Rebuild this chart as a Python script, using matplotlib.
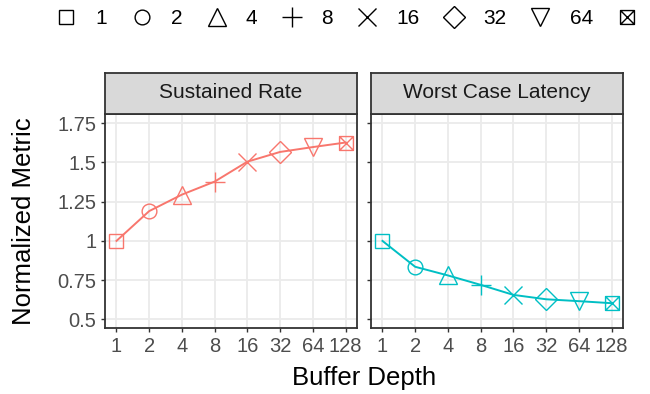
import matplotlib
matplotlib.use("Agg")
import matplotlib.pyplot as plt
from matplotlib.path import Path
from matplotlib.lines import Line2D

plt.rcParams['font.family'] = ['Liberation Sans', 'DejaVu Sans']

# data
depths = [1, 2, 4, 8, 16, 32, 64, 128]
depth_labels = ["1", "2", "4", "8", "16", "32", "64", "128"]
sustained_rate = [1.0, 1.19, 1.295, 1.378, 1.505, 1.567, 1.598, 1.627]
worst_latency = [1.0, 0.835, 0.78, 0.72, 0.656, 0.628, 0.616, 0.603]
facets = ["Sustained Rate", "Worst Case Latency"]
colors = ["#F8766D", "#00BFC4"]
yticks = [0.5, 0.75, 1.0, 1.25, 1.5, 1.75]
ytick_labels = ["0.5", "0.75", "1", "1.25", "1.5", "1.75"]

# ggplot shapes 0..7 ; boxed x made as a path
boxx = Path([(-0.5, -0.5), (0.5, -0.5), (0.5, 0.5), (-0.5, 0.5), (-0.5, -0.5),
             (-0.5, -0.5), (0.5, 0.5), (-0.5, 0.5), (0.5, -0.5)],
            [Path.MOVETO, Path.LINETO, Path.LINETO, Path.LINETO, Path.CLOSEPOLY,
             Path.MOVETO, Path.LINETO, Path.MOVETO, Path.LINETO])
markers = ["s", "o", "^", "+", "x", "D", "v", boxx]
msizes = [9.6, 10.6, 13.5, 14.4, 13.0, 11.5, 12.5, 10.0]

W, H = 650, 394
fig = plt.figure(figsize=(6.5, 3.94), dpi=100)

def fx(px):
    return px / W

def fy(py):
    return 1 - py / H

panel_x = [105, 371]
pw = 252
ptop, pbot = 113.5, 328.3
strip_top = 72.5

for i, (name, vals, col) in enumerate(zip(facets, [sustained_rate, worst_latency], colors)):
    ax = fig.add_axes([fx(panel_x[i]), fy(pbot), pw / W, (pbot - ptop) / H])
    ax.set_xscale("log", base=2)
    ax.set_xlim(2 ** -0.35, 2 ** 7.35)
    ax.set_ylim(0.443, 1.812)
    ax.set_xticks(depths)
    ax.set_xticklabels(depth_labels)
    ax.minorticks_off()
    ax.set_yticks(yticks)
    if i == 0:
        ax.set_yticklabels(ytick_labels)
    else:
        ax.set_yticklabels([])
    ax.grid(True, color="#EBEBEB", lw=1.3)
    ax.set_axisbelow(True)
    for s in ax.spines.values():
        s.set_color("#333333")
        s.set_linewidth(1.3)
    ax.tick_params(axis="both", length=3.2, width=1.0, color="#333333",
                   labelcolor="#4D4D4D", labelsize=14.5, pad=3)
    ax.plot(depths, vals, color=col, lw=1.4, zorder=2)
    for x, y, m, ms in zip(depths, vals, markers, msizes):
        ax.plot([x], [y], linestyle="none", marker=m, markersize=ms,
                markerfacecolor="none", markeredgecolor=col, markeredgewidth=1.0, zorder=3)

    sax = fig.add_axes([fx(panel_x[i]), fy(ptop), pw / W, (ptop - strip_top) / H])
    sax.set_facecolor("#D9D9D9")
    sax.set_xticks([])
    sax.set_yticks([])
    for s in sax.spines.values():
        s.set_color("#333333")
        s.set_linewidth(1.3)
    sax.text(0.5, 0.5, name, ha="center", va="center", fontsize=15,
             color="#1A1A1A", transform=sax.transAxes)

fig.text(fx(24), fy(220.7), "Normalized Metric", rotation=90, ha="center",
         va="center", fontsize=18.5)
fig.text(fx(364), fy(385), "Buffer Depth", ha="center", va="baseline", fontsize=18.5)

handles = [Line2D([], [], linestyle="none", marker=m, markersize=ms,
                  markerfacecolor="none", markeredgecolor="black", markeredgewidth=1.0)
           for m, ms in zip(markers, msizes)]
fig.legend(handles, depth_labels, loc="center left", bbox_to_anchor=(fx(56), fy(19)),
           ncol=8, frameon=False, fontsize=15, handlelength=1.0, handletextpad=0.9,
           columnspacing=1.15, borderpad=0, borderaxespad=0)

fig.savefig("out.png", dpi=100)
